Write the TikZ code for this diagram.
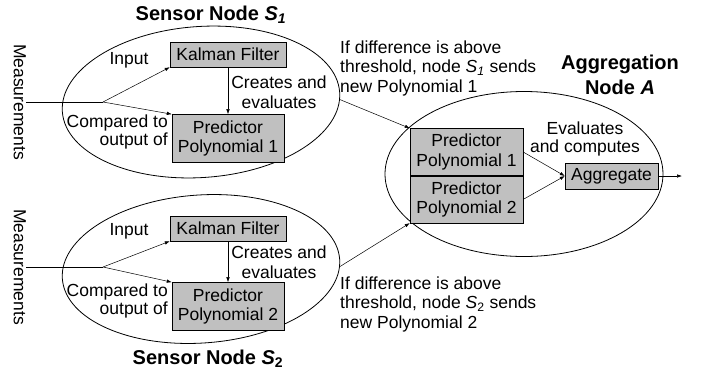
\documentclass[tikz,border=0pt]{standalone}
\usepackage{fontspec}
\setmainfont{Liberation Sans}
\usepackage{xcolor}
\usetikzlibrary{arrows.meta,positioning,shapes.geometric}
\definecolor{boxgray}{HTML}{C0C0C0}
\newcommand{\sname}[1]{\textit{S}\textsubscript{#1}}

\begin{document}
\begin{tikzpicture}[
    x=1pt, y=-1pt,
    node distance=48pt,
    txt/.style={font=\fontsize{17.5}{19.5}\selectfont, align=center, inner sep=0pt},
    tight/.style={font=\fontsize{17.5}{17.5}\selectfont},
    heading/.style={font=\fontsize{20}{25}\selectfont\bfseries, align=center, inner sep=0pt},
    block/.style={rectangle, draw=black, fill=boxgray, font=\fontsize{17.5}{19.5}\selectfont, align=center, inner sep=0pt, minimum width=113pt, minimum height=47pt},
    region/.style={ellipse, draw=black, line width=0.8pt, inner sep=0pt},
    arrow/.style={-{Latex[length=5pt,width=3.5pt]}, black, line width=0.5pt}
]
\useasboundingbox (0,0) rectangle (702,373);

% the three nodes of the network
\node[region, rotate=4, minimum width=278pt, minimum height=151pt] (sn1) at (201,102) {};
\node[region, rotate=4, minimum width=278pt, minimum height=148pt] (sn2) at (201,269) {};
\node[region, minimum width=278pt, minimum height=165pt] (agg) at (524,174) {};

\node[heading] (sn1title) at (211,15) {Sensor Node \textit{S}\textsubscript{\textit{1}}};
\node[heading] (sn2title) at (208,359) {Sensor Node \textit{S}\textsubscript{2}};
\node[heading] (aggtitle) at (620,75) {Aggregation\\Node \textit{A}};

% sensor node 1
\node[block, minimum width=116pt, minimum height=25pt] (kf1) at (228,54.5) {Kalman Filter};
\node[block, minimum width=112pt, minimum height=48pt, below=47pt of kf1] (pp1) {Predictor\\Polynomial 1};
\node[txt, rotate=-90, anchor=north] (meas1) at (26,102) {Measurements};
\coordinate (fork1) at (103,102);
\node[txt] (in1) at (129,60) {Input};
\node[txt, tight, align=right, anchor=east] (cmp1) at (168,132) {Compared to\\output of};
\node[txt] (cre1) at (279,92) {Creates and\\evaluates};

\draw[line width=0.8pt] (meas1.north) -- (fork1);
\draw[arrow] (fork1) -- (kf1.south west);
\draw[arrow] (fork1) -- (pp1.north west);
\draw[arrow] (kf1) -- (pp1);

% sensor node 2
\node[block, minimum width=116pt, minimum height=25pt] (kf2) at (228,228.5) {Kalman Filter};
\node[block, minimum width=112pt, minimum height=48pt, below=41pt of kf2] (pp2) {Predictor\\Polynomial 2};
\node[txt, rotate=-90, anchor=north] (meas2) at (26,267) {Measurements};
\coordinate (fork2) at (103,267);
\node[txt] (in2) at (129,231) {Input};
\node[txt, tight, align=right, anchor=east] (cmp2) at (168,301) {Compared to\\output of};
\node[txt] (cre2) at (279,262) {Creates and\\evaluates};

\draw[line width=0.8pt] (meas2.north) -- (fork2);
\draw[arrow] (fork2) -- (kf2.south west);
\draw[arrow] (fork2) -- (pp2.north west);
\draw[arrow] (kf2) -- (pp2);

% aggregation node
\node[block] (ap1) at (466.5,152) {Predictor\\Polynomial 1};
\node[block, below=0pt of ap1] (ap2) {Predictor\\Polynomial 2};
\node[block, minimum width=93pt, minimum height=26pt] (aggr) at (611.5,176) {Aggregate};
\node[txt, tight] (evl) at (585,139) {Evaluates\\and computes};
\coordinate (out) at (682,176);

\draw[arrow] (ap1.east) -- (aggr.west);
\draw[arrow] (ap2.east) -- (aggr.west);
\draw[arrow] (aggr) -- (out);

% updates sent to the aggregator
\node[txt, align=left, anchor=west] (msg1) at (340,68) {If difference is above\\threshold, node \textit{S}\textsubscript{\textit{1}} sends\\new Polynomial 1};
\node[txt, align=left, anchor=west] (msg2) at (340,304) {If difference is above\\threshold, node \sname{2} sends\\new Polynomial 2};
\draw[arrow] (sn1.-3) -- (ap1.north west);
\draw[arrow] (sn2.-3) -- (ap2.south west);
\end{tikzpicture}
\end{document}
